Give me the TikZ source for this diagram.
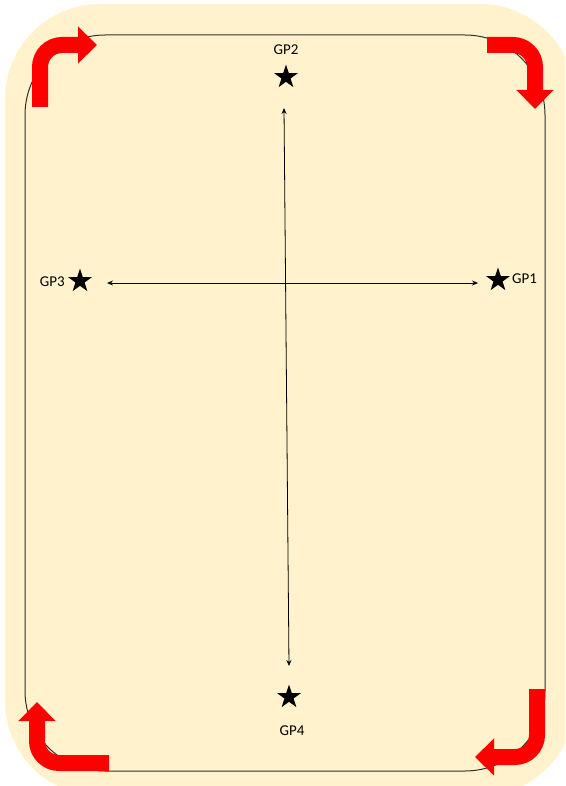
\documentclass[tikz,border=0pt]{standalone}
\usepackage{fontspec}
\setmainfont{Carlito}
\usetikzlibrary{arrows.meta,shapes.geometric}
\definecolor{cream}{HTML}{FFF2CC}
\definecolor{bigred}{HTML}{FF0000}
\definecolor{frameline}{HTML}{2F2F2F}
\tikzset{
  starmark/.style={star, star points=5, star point ratio=2.6, fill=black, draw=none, minimum size=25pt, inner sep=0pt},
  gplabel/.style={font=\fontsize{15}{17}\selectfont, inner sep=0pt},
  bentarrow/.style={draw=bigred, line width=16pt, rounded corners=22pt, line cap=butt,
    -{Triangle[length=19pt, width=36pt]}},
  dblarrow/.style={draw=black, line width=0.8pt, {Stealth[length=6pt,width=5pt]}-{Stealth[length=6pt,width=5pt]}},
}
\begin{document}
\begin{tikzpicture}[x=1pt,y=-1pt]
\useasboundingbox (0,0) rectangle (565,786);
\begin{scope}
\clip (0,0) rectangle (565,786);
\fill[cream, rounded corners=95pt] (5,4) rectangle (575,796);
\end{scope}
\draw[frameline, line width=1pt, rounded corners=80pt] (25,35) rectangle (545,771);

% red bent arrows
\coordinate (tlA) at (40,107);  \coordinate (tlB) at (97,45);
\coordinate (trA) at (487,45);  \coordinate (trB) at (535,109);
\coordinate (brA) at (537,689); \coordinate (brB) at (475,757);
\coordinate (blA) at (109,763); \coordinate (blB) at (37,702);
\draw[bentarrow] (tlA) |- (tlB);
\draw[bentarrow] (trA) -| (trB);
\draw[bentarrow] (brA) |- (brB);
\draw[bentarrow] (blA) -| (blB);

% stars and labels
\node[starmark] (s2) at (286,77) {};
\node[gplabel] (l2) at (286,50) {GP2};
\node[starmark] (s3) at (80,281) {};
\node[gplabel, anchor=east] (l3) at (65,282) {GP3};
\node[starmark] (s1) at (498,280) {};
\node[gplabel, anchor=west] (l1) at (512,279) {GP1};
\node[starmark] (s4) at (289,697) {};
\node[gplabel] (l4) at (292,731) {GP4};

% double arrows
\coordinate (vt) at (284,108);
\coordinate (vb) at (289,666);
\coordinate (hl) at (107,283);
\coordinate (hr) at (478,283);
\draw[dblarrow] (vt) -- (vb);
\draw[dblarrow] (hl) -- (hr);
\end{tikzpicture}
\end{document}
